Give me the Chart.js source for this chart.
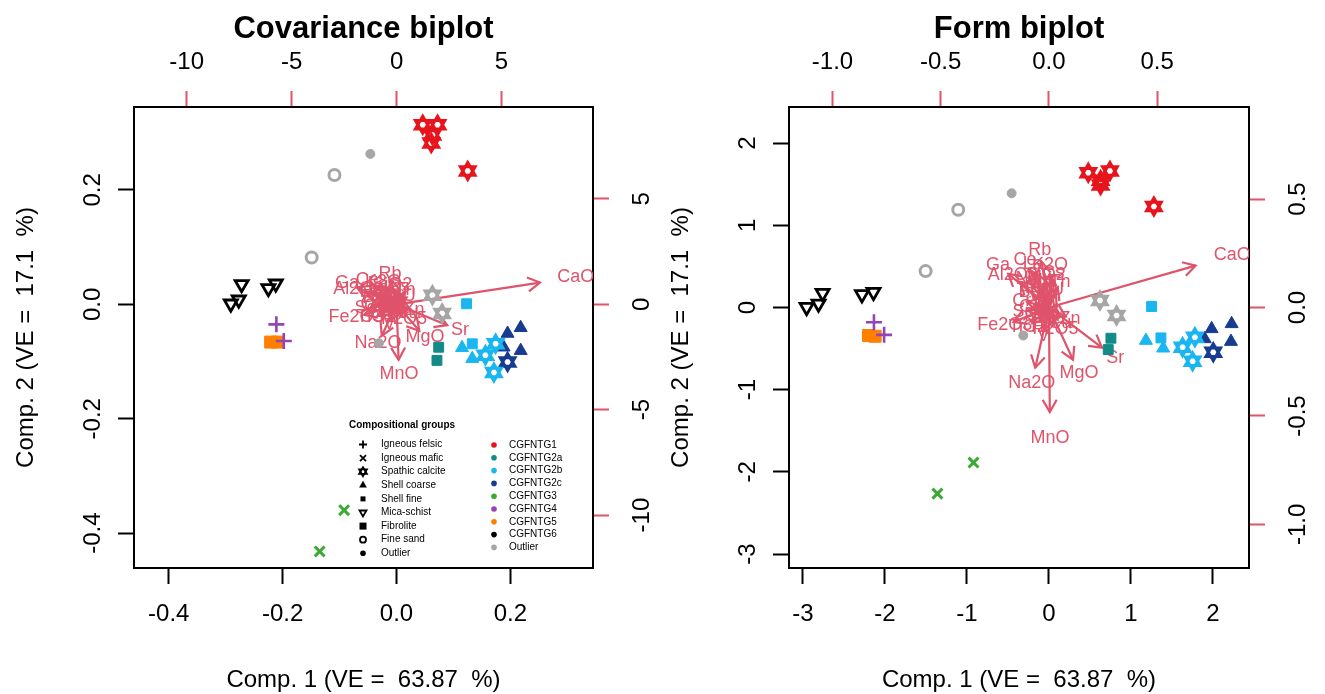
<!DOCTYPE html>
<html>
<head>
<meta charset="utf-8">
<script src="https://cdn.jsdelivr.net/npm/chart.js@4.4.0/dist/chart.umd.min.js"></script>
<style>
  body { margin: 0; background: #fff; width: 1325px; height: 694px; overflow: hidden; position: relative; }
  canvas { position: absolute; top: 0; }
  #cov { left: 0; }
  #form { left: 662px; }
</style>
</head>
<body>
<canvas id="cov" width="662" height="694"></canvas>
<canvas id="form" width="663" height="694"></canvas>
<script>
// groups and fabrics
const groupNames = ['CGFNTG1', 'CGFNTG2a', 'CGFNTG2b', 'CGFNTG2c', 'CGFNTG3', 'CGFNTG4', 'CGFNTG5', 'CGFNTG6', 'Outlier'];
const fabricNames = ['Igneous felsic', 'Igneous mafic', 'Spathic calcite', 'Shell coarse', 'Shell fine', 'Mica-schist', 'Fibrolite', 'Fine sand', 'Outlier'];

// one entry per sample
const sampleGroup = [
  'CGFNTG1', 'CGFNTG1', 'CGFNTG1', 'CGFNTG1', 'CGFNTG1',
  'Outlier', 'Outlier', 'Outlier', 'Outlier', 'Outlier', 'Outlier',
  'CGFNTG6', 'CGFNTG6', 'CGFNTG6', 'CGFNTG6', 'CGFNTG6',
  'CGFNTG4', 'CGFNTG4', 'CGFNTG5', 'CGFNTG5',
  'CGFNTG2a', 'CGFNTG2a',
  'CGFNTG2b', 'CGFNTG2b', 'CGFNTG2b', 'CGFNTG2b', 'CGFNTG2b', 'CGFNTG2b', 'CGFNTG2b',
  'CGFNTG2c', 'CGFNTG2c', 'CGFNTG2c', 'CGFNTG2c', 'CGFNTG2c',
  'CGFNTG3', 'CGFNTG3'
];
const sampleFabric = [
  'Spathic calcite', 'Spathic calcite', 'Spathic calcite', 'Spathic calcite', 'Spathic calcite',
  'Outlier', 'Outlier', 'Fine sand', 'Fine sand', 'Spathic calcite', 'Spathic calcite',
  'Mica-schist', 'Mica-schist', 'Mica-schist', 'Mica-schist', 'Mica-schist',
  'Igneous felsic', 'Igneous felsic', 'Fibrolite', 'Fibrolite',
  'Shell fine', 'Shell fine',
  'Shell fine', 'Shell fine', 'Shell coarse', 'Shell coarse', 'Spathic calcite', 'Spathic calcite', 'Spathic calcite',
  'Shell coarse', 'Shell coarse', 'Shell coarse', 'Shell coarse', 'Spathic calcite',
  'Igneous mafic', 'Igneous mafic'
];

// covariance biplot scores
const covX = [0.046, 0.072, 0.063, 0.061, 0.125,
  -0.046, -0.031, -0.109, -0.149, 0.063, 0.080,
  -0.291, -0.277, -0.272, -0.225, -0.212,
  -0.211, -0.198, -0.221, -0.209,
  0.074, 0.071,
  0.123, 0.133, 0.115, 0.133, 0.174, 0.156, 0.171,
  0.195, 0.218, 0.188, 0.218, 0.195,
  -0.092, -0.135];
const covY = [0.314, 0.314, 0.296, 0.282, 0.233,
  0.263, -0.068, 0.226, 0.082, 0.016, -0.016,
  0.001, 0.008, 0.035, 0.028, 0.036,
  -0.035, -0.064, -0.066, -0.066,
  -0.075, -0.098,
  0.001, -0.069, -0.076, -0.095, -0.069, -0.089, -0.119,
  -0.051, -0.041, -0.075, -0.081, -0.101,
  -0.360, -0.432];

// form biplot scores
const formX = [0.48, 0.744, 0.63, 0.63, 1.28,
  -0.455, -0.313, -1.106, -1.504, 0.622, 0.825,
  -2.955, -2.81, -2.76, -2.28, -2.14,
  -2.134, -2.01, -2.20, -2.12,
  0.756, 0.723,
  1.252, 1.366, 1.183, 1.394, 1.78, 1.63, 1.752,
  1.984, 2.228, 1.90, 2.22, 2.004,
  -0.92, -1.36];
const formY = [1.64, 1.66, 1.55, 1.49, 1.23,
  1.39, -0.341, 1.19, 0.443, 0.085, -0.098,
  0.004, 0.045, 0.174, 0.159, 0.187,
  -0.179, -0.333, -0.341, -0.35,
  -0.374, -0.512,
  0.012, -0.37, -0.402, -0.496, -0.362, -0.484, -0.655,
  -0.26, -0.199, -0.382, -0.415, -0.545,
  -1.887, -2.265];

// variable loadings (label positions, arrows go to 0.8 of them)
const variables = ['CaO', 'Sr', 'MgO', 'MnO', 'Na2O', 'Rb', 'Ga', 'Ce', 'K2O', 'Al2O3', 'Th', 'Cr', 'Fe2O3', 'TiO2', 'Zn',
  'La', 'Nb', 'Y', 'Zr', 'V', 'Ni', 'Ba', 'P2O5', 'SiO2', 'Co', 'Cu', 'Pb', 'Nd', 'Hf', 'U', 'Sc', 'Sm', 'Cs'];
const covLoadX = [8.54, 3.02, 1.36, 0.12, -0.88, -0.31, -2.36, -1.40, -0.64, -1.83, 0.40, -1.26, -1.93, -0.98, 0.83,
  -0.9, -0.5, 0.25, -0.6, -0.35, -0.9, -1.1, 0.35, -0.2, -1.0, 0.5, -0.7, -1.2, -0.4, 0.6, -1.5, -0.2, 0.1];
const covLoadY = [1.29, -1.24, -1.57, -3.29, -1.86, 1.43, 1.0, 1.14, 1.05, 0.71, 0.67, 0.0, -0.62, -0.62, -0.29,
  0.95, 0.5, 0.25, -0.35, -0.95, -0.3, 0.35, -0.7, 0.9, -0.1, -0.4, 0.2, 0.6, -0.6, 0.4, -0.2, -0.2, 0.8];
const formLoadX = [0.847, 0.306, 0.139, 0.005, -0.079, -0.042, -0.235, -0.111, 0.005, -0.167, 0.051, -0.126, -0.204, -0.097, 0.097,
  -0.075, -0.035, 0.02, -0.05, -0.025, -0.075, -0.09, 0.03, -0.015, -0.085, 0.05, -0.06, -0.1, -0.04, 0.04, -0.12, -0.01, 0.02];
const formLoadY = [0.241, -0.231, -0.301, -0.602, -0.347, 0.264, 0.194, 0.218, 0.194, 0.148, 0.117, 0.032, -0.083, -0.091, -0.052,
  0.2, 0.12, 0.06, -0.045, -0.13, -0.035, 0.07, -0.1, 0.15, 0.0, -0.07, 0.09, 0.13, -0.09, 0.08, -0.02, -0.03, 0.16];

// axis ticks
const covTicks = [-0.4, -0.2, 0, 0.2];
const covTickLabels = ['-0.4', '-0.2', '0.0', '0.2'];
const covTopTicks = [-10, -5, 0, 5];
const covTopLabels = ['-10', '-5', '0', '5'];
const formTicks = [-3, -2, -1, 0, 1, 2];
const formTickLabels = ['-3', '-2', '-1', '0', '1', '2'];
const formTopTicks = [-1, -0.5, 0, 0.5];
const formTopLabels = ['-1.0', '-0.5', '0.0', '0.5'];

// styles
const PINK = '#DF536B';
const FONT = '"Liberation Sans", Arial, sans-serif';
const groupColors = {
  CGFNTG1: '#E8141C', CGFNTG2a: '#128B88', CGFNTG2b: '#19B6F0', CGFNTG2c: '#173C8F',
  CGFNTG3: '#3AAA35', CGFNTG4: '#9444B4', CGFNTG5: '#FF8000', CGFNTG6: '#000000', Outlier: '#A6A6A6'
};
const fabricStyle = {
  'Igneous felsic': { style: 'cross', radius: 8, border: 2.6, filled: false },
  'Igneous mafic': { style: 'crossRot', radius: 7, border: 3, filled: false },
  'Spathic calcite': { style: 'triangle', radius: 8.5, border: 3, filled: false, star: true },
  'Shell coarse': { style: 'triangle', radius: 7.5, border: 1, filled: true },
  'Shell fine': { style: 'rect', radius: 7, border: 1, filled: true },
  'Mica-schist': { style: 'triangle', radius: 7.5, border: 2.8, filled: false, rotation: 180 },
  'Fibrolite': { style: 'rect', radius: 8.5, border: 1, filled: true },
  'Fine sand': { style: 'circle', radius: 5.5, border: 3, filled: false },
  'Outlier': { style: 'circle', radius: 4.5, border: 1, filled: true }
};

function buildDatasets(xs, ys) {
  const sets = [];
  groupNames.forEach(g => {
    fabricNames.forEach(f => {
      const pts = [];
      sampleGroup.forEach((sg, i) => {
        if (sg === g && sampleFabric[i] === f) pts.push({ x: xs[i], y: ys[i] });
      });
      if (!pts.length) return;
      const st = fabricStyle[f];
      const col = groupColors[g];
      const rots = st.star ? [0, 180] : [st.rotation || 0];
      rots.forEach(r => {
        sets.push({
          label: g + ' / ' + f,
          data: pts,
          showLine: false,
          pointStyle: st.style,
          pointRotation: r,
          pointRadius: st.radius,
          pointBorderWidth: st.border,
          pointBorderColor: col,
          pointBackgroundColor: st.filled ? col : 'rgba(0,0,0,0)'
        });
      });
    });
  });
  return sets;
}

function scaleCfg(pos, lim, ticks, color, size) {
  return {
    type: 'linear',
    position: pos,
    min: lim[0],
    max: lim[1],
    afterBuildTicks: s => { s.ticks = ticks.map(v => ({ value: v })); },
    afterFit: s => {
      if (pos === 'left' || pos === 'right') s.width = size; else s.height = size;
    },
    ticks: { display: false },
    grid: { display: true, drawOnChartArea: false, drawTicks: true, tickLength: 16, tickWidth: 2, tickColor: color },
    border: { display: true, color: '#000', width: 2 }
  };
}

// arrows + variable labels, drawn on the secondary scales
function arrowPlugin(loadX, loadY) {
  return {
    id: 'arrows',
    beforeDatasetsDraw(chart) {
      const { ctx, chartArea: a } = chart;
      const sx = chart.scales.x2, sy = chart.scales.y2;
      const head = 14;
      ctx.save();
      ctx.beginPath();
      ctx.rect(a.left, a.top, a.right - a.left, a.bottom - a.top);
      ctx.clip();
      ctx.fillStyle = PINK;
      ctx.font = '18px ' + FONT;
      ctx.textAlign = 'center';
      ctx.textBaseline = 'middle';
      variables.forEach((v, i) => {
        ctx.fillText(v, sx.getPixelForValue(loadX[i]), sy.getPixelForValue(loadY[i]));
      });
      ctx.strokeStyle = PINK;
      ctx.lineWidth = 2.2;
      const x0 = sx.getPixelForValue(0), y0 = sy.getPixelForValue(0);
      variables.forEach((v, i) => {
        const x1 = sx.getPixelForValue(0.8 * loadX[i]);
        const y1 = sy.getPixelForValue(0.8 * loadY[i]);
        const ang = Math.atan2(y1 - y0, x1 - x0);
        ctx.beginPath();
        ctx.moveTo(x0, y0);
        ctx.lineTo(x1, y1);
        ctx.stroke();
        ctx.beginPath();
        ctx.moveTo(x1 - head * Math.cos(ang - Math.PI / 6), y1 - head * Math.sin(ang - Math.PI / 6));
        ctx.lineTo(x1, y1);
        ctx.lineTo(x1 - head * Math.cos(ang + Math.PI / 6), y1 - head * Math.sin(ang + Math.PI / 6));
        ctx.stroke();
      });
      ctx.restore();
    }
  };
}

// tick labels and titles in the R style
function textPlugin(cfg) {
  return {
    id: 'axisText',
    afterDraw(chart) {
      const { ctx, chartArea: a, scales } = chart;
      ctx.save();
      ctx.textAlign = 'center';
      ctx.textBaseline = 'middle';
      ctx.font = '24px ' + FONT;
      ctx.fillStyle = '#000';
      cfg.ticks.forEach((v, i) => {
        ctx.fillText(cfg.tickLabels[i], scales.x.getPixelForValue(v), a.bottom + 46);
        ctx.save();
        ctx.translate(a.left - 41, scales.y.getPixelForValue(v));
        ctx.rotate(-Math.PI / 2);
        ctx.fillText(cfg.tickLabels[i], 0, 0);
        ctx.restore();
      });
      cfg.topTicks.forEach((v, i) => {
        ctx.fillText(cfg.topLabels[i], scales.x2.getPixelForValue(v), a.top - 45);
        ctx.save();
        ctx.translate(a.right + 49, scales.y2.getPixelForValue(v));
        ctx.rotate(-Math.PI / 2);
        ctx.fillText(cfg.topLabels[i], 0, 0);
        ctx.restore();
      });
      const cx = (a.left + a.right) / 2;
      ctx.fillText('Comp. 1 (VE =  63.87  %)', cx, 680);
      ctx.save();
      ctx.translate(a.left - 108, (a.top + a.bottom) / 2);
      ctx.rotate(-Math.PI / 2);
      ctx.fillText('Comp. 2 (VE =  17.1  %)', 0, 0);
      ctx.restore();
      ctx.font = 'bold 31px ' + FONT;
      ctx.fillText(cfg.title, cx, 29);
      ctx.restore();
    }
  };
}

// legend symbols
function drawSymbol(ctx, fabric, x, y, color) {
  ctx.save();
  ctx.strokeStyle = color;
  ctx.fillStyle = color;
  ctx.lineWidth = 1.8;
  const tri = (r, rot) => {
    ctx.beginPath();
    for (let k = 0; k < 3; k++) {
      const t = rot + k * 2 * Math.PI / 3;
      const px = x + Math.sin(t) * r, py = y - Math.cos(t) * r;
      if (k === 0) ctx.moveTo(px, py); else ctx.lineTo(px, py);
    }
    ctx.closePath();
  };
  switch (fabric) {
    case 'Igneous felsic':
      ctx.beginPath(); ctx.moveTo(x - 4, y); ctx.lineTo(x + 4, y); ctx.moveTo(x, y - 4); ctx.lineTo(x, y + 4); ctx.stroke(); break;
    case 'Igneous mafic':
      ctx.beginPath(); ctx.moveTo(x - 3, y - 3); ctx.lineTo(x + 3, y + 3); ctx.moveTo(x + 3, y - 3); ctx.lineTo(x - 3, y + 3); ctx.stroke(); break;
    case 'Spathic calcite':
      tri(4.5, 0); ctx.stroke(); tri(4.5, Math.PI); ctx.stroke(); break;
    case 'Shell coarse':
      tri(4.5, 0); ctx.fill(); break;
    case 'Shell fine':
      ctx.fillRect(x - 2.5, y - 2.5, 5, 5); break;
    case 'Mica-schist':
      tri(4, Math.PI); ctx.stroke(); break;
    case 'Fibrolite':
      ctx.fillRect(x - 3.5, y - 3.5, 7, 7); break;
    case 'Fine sand':
      ctx.beginPath(); ctx.arc(x, y, 3, 0, 2 * Math.PI); ctx.stroke(); break;
    default:
      ctx.beginPath(); ctx.arc(x, y, 2.8, 0, 2 * Math.PI); ctx.fill();
  }
  ctx.restore();
}

const legendPlugin = {
  id: 'groupLegend',
  afterDraw(chart) {
    const ctx = chart.ctx;
    ctx.save();
    ctx.fillStyle = '#000';
    ctx.textBaseline = 'middle';
    ctx.textAlign = 'center';
    ctx.font = 'bold 10px ' + FONT;
    ctx.fillText('Compositional groups', 402, 425);
    ctx.textAlign = 'left';
    ctx.font = '10px ' + FONT;
    fabricNames.forEach((f, i) => {
      const y = 444.5 + i * 13.6;
      drawSymbol(ctx, f, 363, y, '#000');
      ctx.fillStyle = '#000';
      ctx.fillText(f, 381, y);
    });
    groupNames.forEach((g, i) => {
      const y = 445 + i * 12.8;
      ctx.beginPath();
      ctx.fillStyle = groupColors[g];
      ctx.arc(494, y, 2.8, 0, 2 * Math.PI);
      ctx.fill();
      ctx.fillStyle = '#000';
      ctx.fillText(g, 509, y);
    });
    ctx.restore();
  }
};

function makeChart(id, cfg) {
  const w = document.getElementById(id).width;
  const plugins = [arrowPlugin(cfg.loadX, cfg.loadY), textPlugin(cfg)];
  if (cfg.legend) plugins.push(legendPlugin);
  return new Chart(document.getElementById(id), {
    type: 'scatter',
    data: { datasets: buildDatasets(cfg.xs, cfg.ys) },
    options: {
      responsive: false,
      animation: false,
      events: [],
      layout: { padding: 0 },
      plugins: { legend: { display: false }, tooltip: { enabled: false }, title: { display: false } },
      scales: {
        x: scaleCfg('bottom', cfg.lim, cfg.ticks, '#000', 694 - cfg.box[3]),
        y: scaleCfg('left', cfg.lim, cfg.ticks, '#000', cfg.box[0]),
        x2: scaleCfg('top', cfg.lim2, cfg.topTicks, PINK, cfg.box[1]),
        y2: scaleCfg('right', cfg.lim2, cfg.topTicks, PINK, w - cfg.box[2])
      }
    },
    plugins: plugins
  });
}

makeChart('cov', {
  title: 'Covariance biplot',
  xs: covX, ys: covY, loadX: covLoadX, loadY: covLoadY,
  lim: [-0.461, 0.345], lim2: [-12.51, 9.36],
  ticks: covTicks, tickLabels: covTickLabels, topTicks: covTopTicks, topLabels: covTopLabels,
  box: [134, 107, 593, 568], legend: true
});

makeChart('form', {
  title: 'Form biplot',
  xs: formX, ys: formY, loadX: formLoadX, loadY: formLoadY,
  lim: [-3.17, 2.44], lim2: [-1.2008, 0.9242],
  ticks: formTicks, tickLabels: formTickLabels, topTicks: formTopTicks, topLabels: formTopLabels,
  box: [127, 107, 587, 568], legend: false
});
</script>
</body>
</html>
